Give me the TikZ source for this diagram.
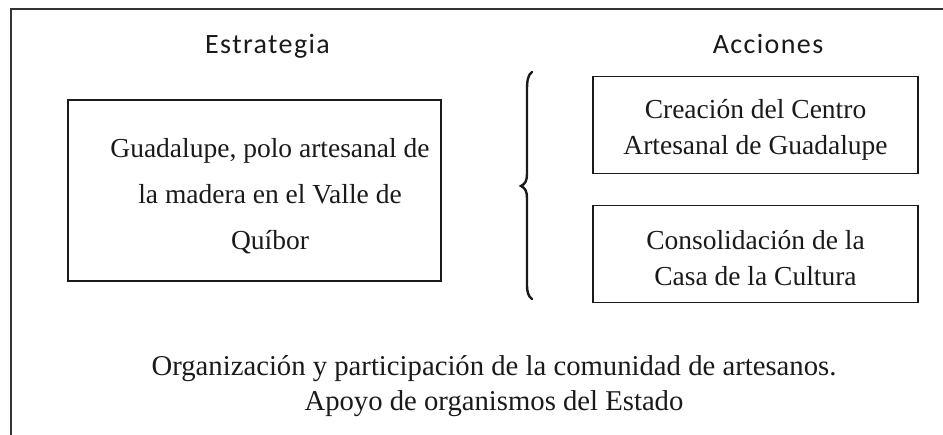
\documentclass[tikz,border=0pt]{standalone}
\usepackage{fontspec}
\usepackage{xcolor}
\usetikzlibrary{positioning}
\setmainfont{Liberation Serif}
\newfontfamily\headfont[LetterSpace=5]{Carlito}
\definecolor{Ink}{HTML}{1A1A1A}
\definecolor{Frame}{HTML}{333333}
\tikzset{
  boxline/.style={draw=Ink, line width=1.3pt, inner sep=0pt},
  boxtext/.style={align=center, inner sep=0pt, text=Ink,
    font=\fontsize{27.5}{46}\selectfont},
  actbox/.style={boxline, minimum width=325pt, minimum height=97pt},
  acttext/.style={boxtext, font=\fontsize{27.5}{36}\selectfont},
  heading/.style={font=\headfont\fontsize{28}{32}\selectfont, text=Ink, anchor=base, inner sep=0pt},
}

\begin{document}
\begin{tikzpicture}[x=1pt, y=-1pt]
        \useasboundingbox (0,0) rectangle (943,435);
        % open frame, cut at the right and at the bottom
        \draw[Frame, line width=1.8pt] (11,435) -- (11,9) -- (943,9);
        \node[heading] (hstrat) at (267.5,54) {Estrategia};
        \node[heading] (hacc) at (768,54) {Acciones};
        \node[boxline, minimum width=373pt, minimum height=181pt] (strat) at (254.5,190.5) {};
        \node[boxtext] (strattext) at (270,196)
          {Guadalupe, polo artesanal de\\la madera en el Valle de\\Quíbor};
        \node[actbox] (centro) at (755.5,125) {};
        \node[acttext] (centrotext) at (755.5,130) {Creación del Centro\\Artesanal de Guadalupe};
        \node[actbox] (casa) at (755.5,254) {};
        \node[acttext] (casatext) at (755.5,258) {Consolidación de la\\Casa de la Cultura};
        % brace
        \draw[Ink, line width=2.4pt, line cap=round]
          (532,72) .. controls (528,75) and (527,80) .. (527,90) -- (527,174)
          .. controls (527,181) and (525,184) .. (521,186)
          .. controls (525,188) and (527,191) .. (527,198) -- (527,284)
          .. controls (527,292) and (528,296) .. (532,299);
        \node[font=\fontsize{28.7}{35}\selectfont, align=center, text=Ink] (apoyo) at (494,386)
          {Organización y participación de la comunidad de artesanos.\\Apoyo de organismos del Estado};
      \end{tikzpicture}
\end{document}
